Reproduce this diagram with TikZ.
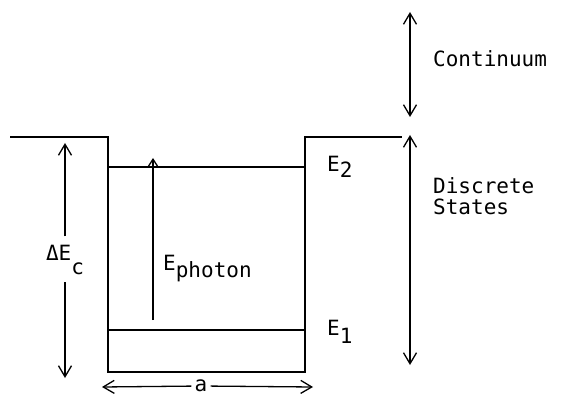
\documentclass[tikz,border=0pt]{standalone}
\usepackage{fontspec}
\setmonofont{DejaVu Sans Mono}
\usetikzlibrary{arrows.meta}

\begin{document}
\begin{tikzpicture}[
            x = 1pt,
            y = -1pt,
            well/.style = {line width = 1.7pt},
            dbl/.style = {line width = 1.3pt, {Straight Barb[length=11pt, width=13pt]}-{Straight Barb[length=11pt, width=13pt]}},
            sgl/.style = {line width = 1.3pt, -{Straight Barb[length=11pt, width=13pt]}},
            small/.style = {line width = 1.3pt, -{Straight Barb[length=7pt, width=9pt]}},
            lbl/.style = {font = \ttfamily\fontsize{21}{21}\selectfont, inner sep = 0pt}
            ]
            \useasboundingbox (0,0) rectangle (573,398);
            % well and levels
            \draw[well] (10,137) -- (108,137) -- (108,372) -- (305,372) -- (305,137) -- (402,137);
            \draw[well] (108,167) -- (305,167);
            \draw[well] (108,330) -- (305,330);

            \node[lbl, anchor=base west] (e2) at (327,172) {E\raisebox{-6pt}{2}};
            \node[lbl, anchor=base west] (e1) at (327,335) {E\raisebox{-8pt}{1}};

            % photon
            \coordinate (phbot) at (153,320);
            \coordinate (phtop) at (153,158);
            \draw[small] (phbot) -- (phtop);
            \node[lbl, anchor=base west] (eph) at (163,270) {E\raisebox{-7pt}{photon}};

            % band offset
            \node[lbl, anchor=base, inner ysep=8pt] (dec) at (65,260) {ΔE\raisebox{-14pt}{c}};
            \coordinate (dectop) at (65,143);
            \coordinate (decbot) at (65,378);
            \draw[sgl] (dec) -- (dectop);
            \draw[sgl] (dec) -- (decbot);

            % well width
            \node[lbl, inner xsep=3pt] (a) at (201,386) {a};
            \coordinate (al) at (102,387);
            \coordinate (ar) at (313,387);
            \draw[sgl] (a) -- (al);
            \draw[sgl] (a) -- (ar);

            % continuum and discrete states
            \coordinate (ctop) at (410,12);
            \coordinate (cbot) at (410,117);
            \draw[dbl] (ctop) -- (cbot);
            \node[lbl, anchor=base west] (cont) at (433,67) {Continuum};

            \coordinate (dtop) at (410,135);
            \coordinate (dbot) at (410,365);
            \draw[dbl] (dtop) -- (dbot);
            \node[lbl, anchor=west, align=left] (disc) at (433,196) {Discrete\\States};
        \end{tikzpicture}
\end{document}
